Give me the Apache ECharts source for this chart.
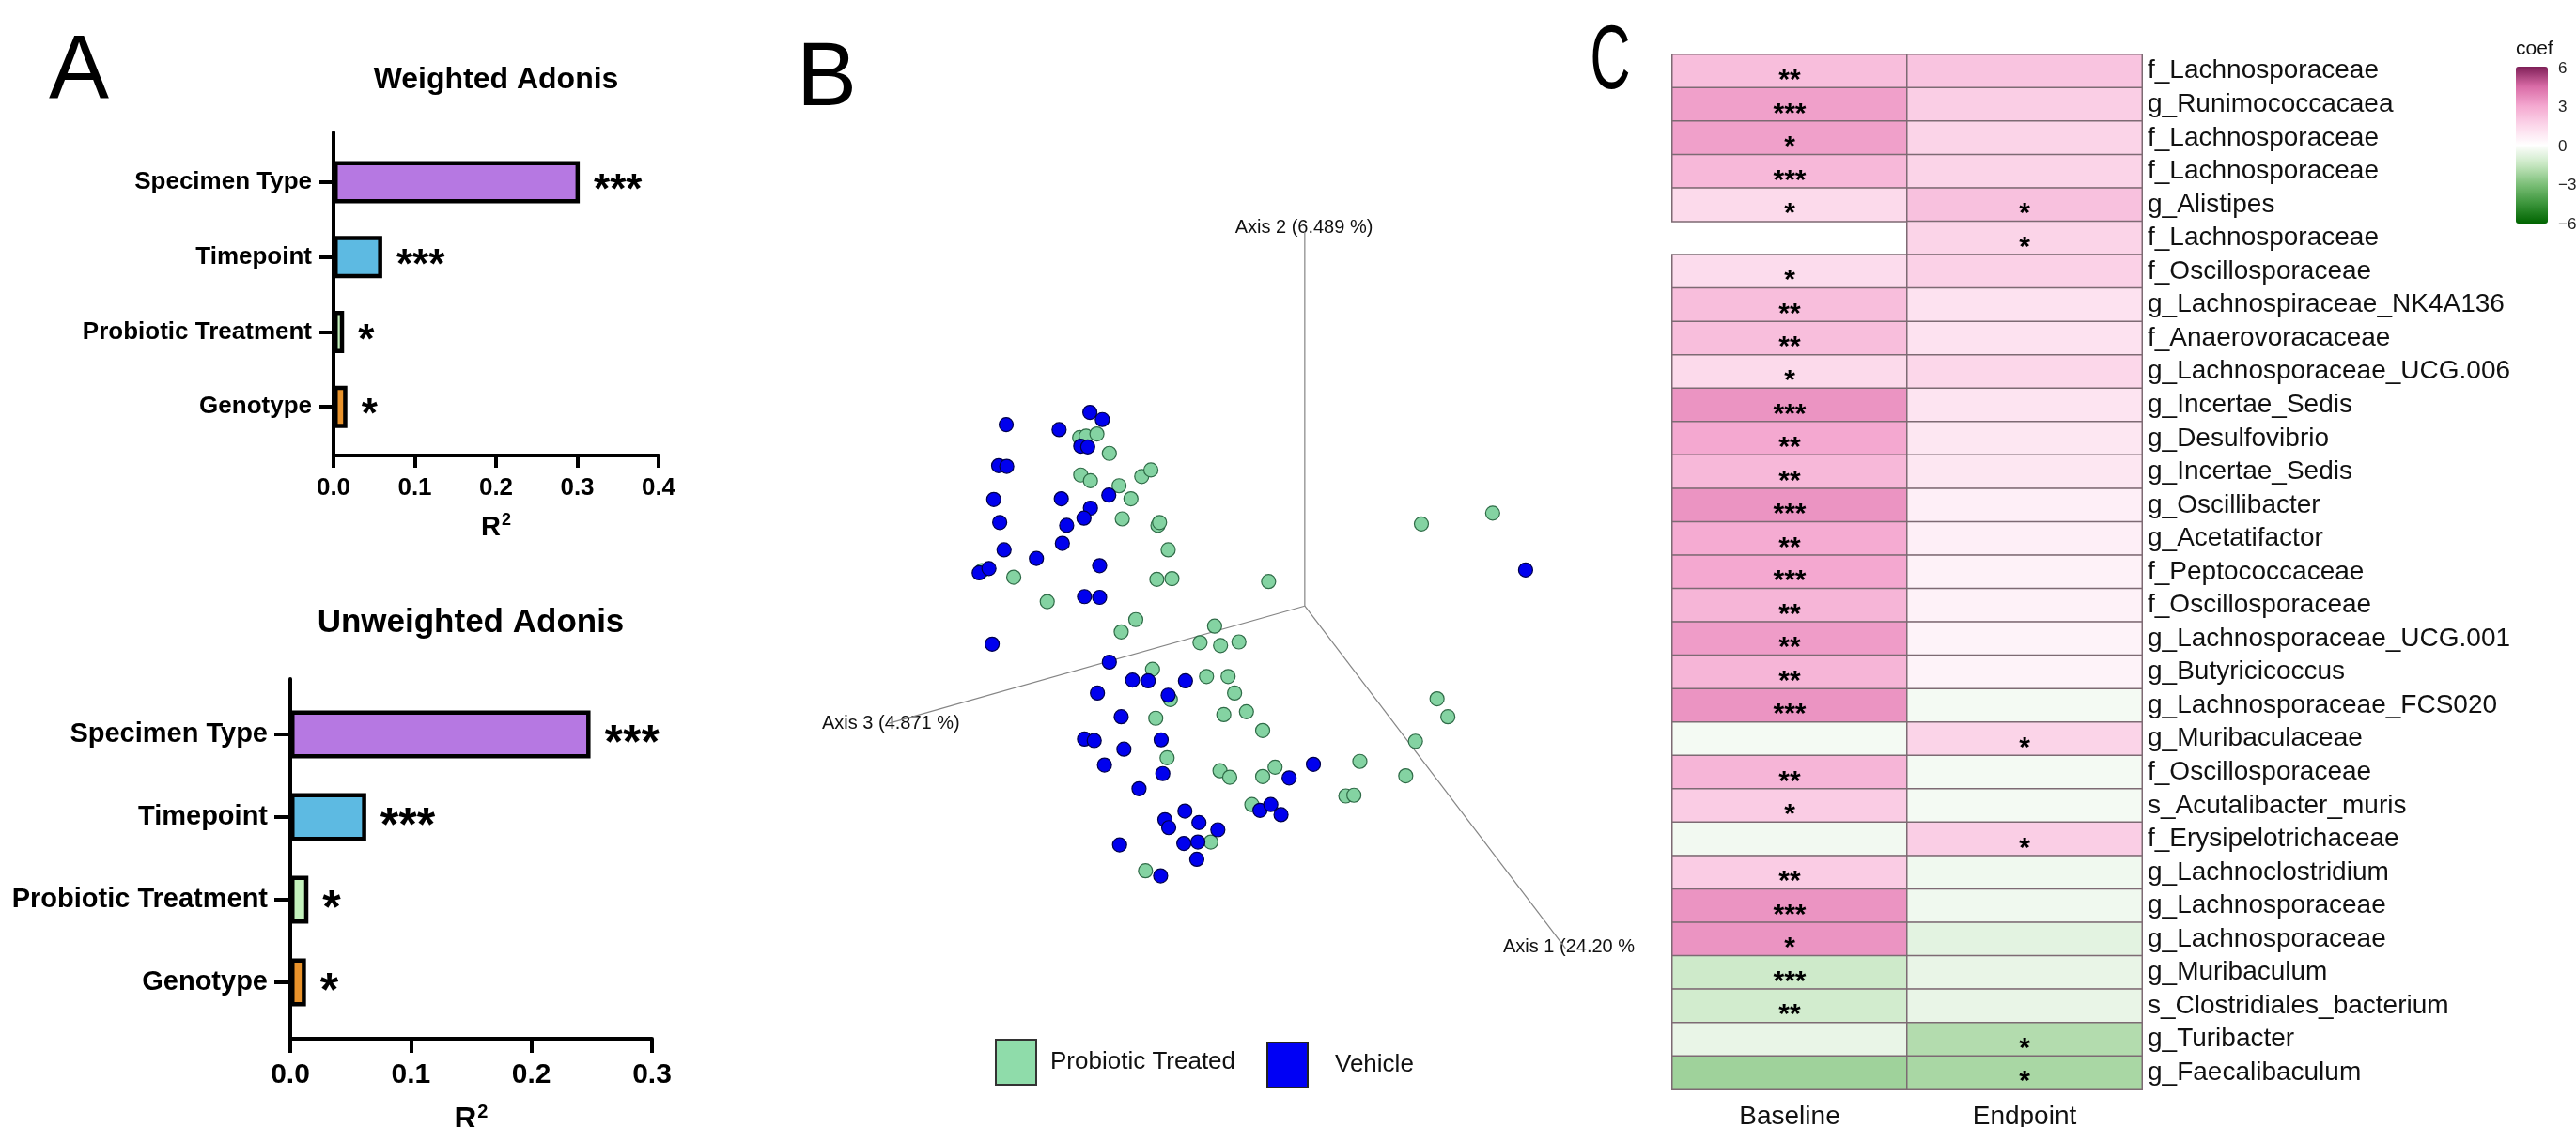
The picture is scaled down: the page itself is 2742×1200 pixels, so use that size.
<!DOCTYPE html>
<html><head><meta charset="utf-8">
<script src="https://cdn.jsdelivr.net/npm/echarts@6/dist/echarts.min.js"></script>
<style>html,body{margin:0;padding:0;background:#fff}#chart{width:2742px;height:1200px}</style>
</head><body><div id="chart"></div>
<script>
// ---------- DATA ----------
const adonisFactors = ['Specimen Type', 'Timepoint', 'Probiotic Treatment', 'Genotype'];
const weightedR2 = [0.303, 0.060, 0.013, 0.017];
const weightedSig = ['***', '***', '*', '*'];
const unweightedR2 = [0.249, 0.063, 0.015, 0.013];
const unweightedSig = ['***', '***', '*', '*'];
const weightedTickMax = 0.4;
const unweightedTickMax = 0.3;

// PCoA (emperor) projected screen coordinates
const probioticPoints = [[538,608],[550,606],[570,603],[593,630],[540,660],[558,668],[611,675],[653,662],[670,653],[633,693],[617,721],[683,730],[686,726],[702,764],[357,793],[416,802],[681,805],[709,804],[888,808],[478,836],[642,861],[615,878],[788,870],[761,893],[799,897],[833,892],[1171,728],[1303,713],[673,930],[773,940],[813,940],[706,972],[825,963],[679,998],[805,993],[847,989],[877,1015],[1200,971],[1220,996],[1160,1030],[700,1053],[798,1071],[816,1080],[877,1079],[900,1066],[1057,1058],[1142,1078],[1031,1106],[1046,1105],[857,1118],[781,1170],[660,1210]];
const vehiclePoints = [[402,590],[500,597],[557,573],[580,583],[540,620],[553,621],[388,647],[403,648],[379,694],[504,693],[592,688],[390,726],[514,730],[558,706],[546,720],[398,764],[458,776],[506,755],[352,796],[370,790],[575,786],[547,829],[575,830],[376,895],[1364,792],[593,920],[636,945],[665,946],[734,946],[571,963],[702,966],[615,996],[547,1027],[565,1029],[689,1028],[620,1041],[584,1063],[692,1075],[926,1081],[971,1062],[648,1096],[872,1126],[892,1118],[911,1132],[733,1127],[696,1139],[703,1150],[759,1143],[794,1153],[612,1174],[731,1172],[757,1170],[755,1194],[688,1217]];
const pcoaOrigin = [955, 842];
const pcoaAxisEnds = [[1438, 1318], [955, 322], [185, 1005]];
const pcoaAxisLabels = ['Axis 1 (24.20 %', 'Axis 2 (6.489 %)', 'Axis 3 (4.871 %)'];
const groupNames = ['Probiotic Treated', 'Vehicle'];

// Heatmap
const taxa = ['f_Lachnosporaceae','g_Runimococcacaea','f_Lachnosporaceae','f_Lachnosporaceae','g_Alistipes','f_Lachnosporaceae','f_Oscillosporaceae','g_Lachnospiraceae_NK4A136','f_Anaerovoracaceae','g_Lachnosporaceae_UCG.006','g_Incertae_Sedis','g_Desulfovibrio','g_Incertae_Sedis','g_Oscillibacter','g_Acetatifactor','f_Peptococcaceae','f_Oscillosporaceae','g_Lachnosporaceae_UCG.001','g_Butyricicoccus','g_Lachnosporaceae_FCS020','g_Muribaculaceae','f_Oscillosporaceae','s_Acutalibacter_muris','f_Erysipelotrichaceae','g_Lachnoclostridium','g_Lachnosporaceae','g_Lachnosporaceae','g_Muribaculum','s_Clostridiales_bacterium','g_Turibacter','g_Faecalibaculum'];
const timepoints = ['Baseline', 'Endpoint'];
const coefBaseline = [2.3,3.2,3.2,2.5,1.4,null,1.3,2.3,2.3,1.4,3.5,3.0,2.5,3.5,2.9,3.0,2.6,3.3,2.6,3.5,-0.3,2.6,1.85,-0.35,1.85,3.5,3.5,-1.3,-1.2,-0.6,-2.3];
const coefEndpoint = [2.1,1.8,1.6,1.6,2.2,1.6,1.7,1.1,1.1,1.5,1.0,0.9,0.9,0.6,0.6,0.5,0.5,0.45,0.45,-0.3,1.6,-0.3,-0.3,1.8,-0.4,-0.4,-0.75,-0.6,-0.6,-1.9,-2.1];
const sigBaseline = ['**','***','*','***','*','','*','**','**','*','***','**','**','***','**','***','**','**','**','***','','**','*','','**','***','*','***','**','',''];
const sigEndpoint = ['','','','','*','*','','','','','','','','','','','','','','','*','','','*','','','','','','*','*'];
const coefMin = -6, coefMax = 6, coefStep = 3;

// ---------- STYLE ----------
const FONT = '"Liberation Sans", Arial, Helvetica, sans-serif';
const barColors = ['#B678E2', '#5DBAE2', '#C4F2BC', '#E8922B'];
const coefColors = ['#006400', '#3A943A', '#7CBF78', '#C7E7C2', '#FFFFFF', '#FCD7EA', '#F4A8D0', '#D96BA6', '#7E1F57'];

const heatData = [];
[coefBaseline, coefEndpoint].forEach((col, ci) => {
  col.forEach((v, ri) => { if (v !== null) heatData.push([ci, ri, v]); });
});
const sigByCol = [sigBaseline, sigEndpoint];

function frameAxes(gi, max, tickLen, fs, margin, nameFs, nameGap) {
  return {
    x: { type: 'value', gridIndex: gi, min: 0, max: max, interval: 0.1,
      axisLine: { show: true, lineStyle: { color: '#000', width: 4 } },
      axisTick: { show: true, length: tickLen, lineStyle: { color: '#000', width: 4 } },
      axisLabel: { margin: margin, fontSize: fs, fontWeight: 'bold', color: '#000', fontFamily: FONT, formatter: v => v.toFixed(1) },
      splitLine: { show: false },
      name: '{r|R}{s|2}', nameLocation: 'middle', nameGap: nameGap,
      nameTextStyle: { fontFamily: FONT, color: '#000',
        rich: {
          r: { fontSize: nameFs, fontWeight: 'bold', color: '#000', fontFamily: FONT, lineHeight: nameFs + 2, verticalAlign: 'bottom' },
          s: { fontSize: Math.round(nameFs * 0.62), fontWeight: 'bold', color: '#000', fontFamily: FONT, verticalAlign: 'top', lineHeight: nameFs + 2, padding: [0, 0, 0, 1] }
        } } },
    y: { type: 'value', gridIndex: gi, min: 0, max: 1,
      axisLine: { show: true, lineStyle: { color: '#000', width: 4 } },
      axisTick: { show: false }, axisLabel: { show: false }, splitLine: { show: false } }
  };
}
const f0 = frameAxes(0, weightedTickMax, 13, 26, 22, 29, 60);
const f2 = frameAxes(2, unweightedTickMax, 15, 30, 24, 33, 68);

function catAxis(gi, tickLen, fs, margin) {
  return { type: 'category', gridIndex: gi, data: adonisFactors, inverse: true,
    axisLine: { show: false },
    axisTick: { show: true, length: tickLen, alignWithLabel: true, lineStyle: { color: '#000', width: 4 } },
    axisLabel: { interval: 0, margin: margin, fontSize: fs, fontWeight: 'bold', color: '#000', fontFamily: FONT } };
}

function barSeries(xi, yi, values, sig, bw, fs, off, dist) {
  return { type: 'bar', xAxisIndex: xi, yAxisIndex: yi, barWidth: bw,
    data: values.map((v, i) => ({ value: v, itemStyle: { color: barColors[i] } })),
    itemStyle: { borderColor: '#000', borderWidth: 4.5 },
    label: { show: true, position: 'right', distance: dist, offset: [0, off],
      formatter: p => sig[p.dataIndex], fontSize: fs, fontWeight: 'bold', color: '#000', fontFamily: FONT },
    emphasis: { disabled: true }, silent: true };
}

const axisLineSeries = pcoaAxisEnds.map((end, i) => ({
  type: 'line', xAxisIndex: 4, yAxisIndex: 4, data: [pcoaOrigin, end], symbol: 'none',
  lineStyle: { color: '#858585', width: 1.2 }, silent: true, z: 1, name: 'axis' + i
}));

function txt(x, y, text, opts) {
  return Object.assign({ type: 'text', x: x, y: y,
    style: Object.assign({ text: text, fontFamily: FONT, fill: '#000', verticalAlign: 'middle' }, opts.style) },
    opts.el || {});
}

const OB = 'none';
const option = {
  animation: false,
  backgroundColor: '#fff',
  grid: [
    { left: 355, top: 141, width: 346, height: 344, outerBoundsMode: OB, containLabel: false },
    { left: 355, top: 154, width: 346, height: 319, outerBoundsMode: OB, containLabel: false },
    { left: 309, top: 723, width: 385, height: 383, outerBoundsMode: OB, containLabel: false },
    { left: 309, top: 738, width: 385, height: 352, outerBoundsMode: OB, containLabel: false },
    { left: 840, top: 0, width: 900, height: 1200, outerBoundsMode: OB, containLabel: false },
    { left: 1780, top: 58, width: 500, height: 1102, outerBoundsMode: OB, containLabel: false },
    { left: 2678, top: 73, width: 34, height: 166, outerBoundsMode: OB, containLabel: false }
  ],
  xAxis: [
    f0.x,
    { type: 'value', gridIndex: 1, min: 0, max: weightedTickMax, show: false },
    f2.x,
    { type: 'value', gridIndex: 3, min: 0, max: unweightedTickMax, show: false },
    { type: 'value', gridIndex: 4, min: 0, max: 1566, show: false },
    { type: 'category', gridIndex: 5, data: timepoints, position: 'bottom',
      axisLine: { show: false }, axisTick: { show: false },
      axisLabel: { margin: 15, fontSize: 28, color: '#111', fontFamily: FONT } },
    { type: 'value', gridIndex: 6, min: 0, max: 1, show: false }
  ],
  yAxis: [
    f0.y,
    catAxis(1, 15, 26, 23),
    f2.y,
    catAxis(3, 17, 29, 24),
    { type: 'value', gridIndex: 4, min: 0, max: 1566, inverse: true, show: false },
    { type: 'category', gridIndex: 5, data: taxa, inverse: true, position: 'right',
      axisLine: { show: false }, axisTick: { show: false },
      axisLabel: { interval: 0, margin: 6, fontSize: 28, color: '#111', fontFamily: FONT } },
    { type: 'value', gridIndex: 6, min: coefMin, max: coefMax, interval: coefStep, position: 'right',
      axisLine: { show: false }, splitLine: { show: false },
      axisTick: { show: true, inside: true, length: 7, lineStyle: { color: '#fff', width: 2 } },
      axisLabel: { margin: 11, fontSize: 17, color: '#222', fontFamily: FONT,
        formatter: v => (v < 0 ? '\u2212' + Math.abs(v) : String(v)) } },
    { type: 'value', gridIndex: 6, min: coefMin, max: coefMax, interval: coefStep, position: 'left',
      axisLine: { show: false }, splitLine: { show: false }, axisLabel: { show: false },
      axisTick: { show: true, inside: true, length: 7, lineStyle: { color: '#fff', width: 2 } } }
  ],
  visualMap: {
    type: 'continuous', seriesIndex: 7, dimension: 2, min: coefMin, max: coefMax,
    left: 2678, top: 71, itemWidth: 34, itemHeight: 167, padding: 0,
    calculable: false, text: null, orient: 'vertical',
    inRange: { color: coefColors }, hoverLink: false
  },
  legend: [
    { data: [groupNames[0]], left: 1059, top: 1106, padding: 0, icon: 'rect', itemWidth: 43, itemHeight: 48,
      itemStyle: { borderColor: '#333', borderWidth: 2, color: '#8FDCAA' },
      textStyle: { fontSize: 26, color: '#111', fontFamily: FONT, padding: [0, 0, 0, 10] }, selectedMode: false },
    { data: [groupNames[1]], left: 1348, top: 1109, padding: 0, icon: 'rect', itemWidth: 43, itemHeight: 48,
      itemStyle: { borderColor: '#222', borderWidth: 2, color: '#0000F5' },
      textStyle: { fontSize: 26, color: '#111', fontFamily: FONT, padding: [0, 0, 0, 24] }, selectedMode: false }
  ],
  series: [
    barSeries(1, 1, weightedR2, weightedSig, 45, 44, 10, 15),
    barSeries(3, 3, unweightedR2, unweightedSig, 51, 50, 11, 15),
    { type: 'scatter', name: groupNames[0], xAxisIndex: 4, yAxisIndex: 4, data: probioticPoints, symbolSize: 15,
      itemStyle: { color: '#84D3A2', borderColor: '#2F6B47', borderWidth: 1.2, opacity: 1 }, z: 3, emphasis: { disabled: true } },
    { type: 'scatter', name: groupNames[1], xAxisIndex: 4, yAxisIndex: 4, data: vehiclePoints, symbolSize: 15,
      itemStyle: { color: '#0000EE', borderColor: '#00004A', borderWidth: 1.2, opacity: 1 }, z: 3, emphasis: { disabled: true } },
    axisLineSeries[0], axisLineSeries[1], axisLineSeries[2],
    { type: 'heatmap', xAxisIndex: 5, yAxisIndex: 5, data: heatData,
      itemStyle: { borderColor: '#7d6a73', borderWidth: 1.5 },
      label: { show: true, formatter: p => sigByCol[p.value[0]][p.value[1]], fontSize: 30, fontWeight: 'bold',
        color: '#000', fontFamily: FONT, offset: [0, 10] },
      emphasis: { disabled: true }, silent: true }
  ],
  graphic: [
    txt(52, 78, 'A', { style: { fontSize: 96 } }),
    txt(848, 86, 'B', { style: { fontSize: 96 } }),
    txt(1714, 68, 'C', { style: { fontSize: 96, align: 'center' }, el: { scaleX: 0.62 } }),
    txt(528, 85, 'Weighted Adonis', { style: { fontSize: 32, fontWeight: 'bold', align: 'center' } }),
    txt(501, 663, 'Unweighted Adonis', { style: { fontSize: 35, fontWeight: 'bold', align: 'center' } }),
    txt(1388, 242, pcoaAxisLabels[1], { style: { fontSize: 20, align: 'center', fill: '#111' } }),
    txt(875, 770, pcoaAxisLabels[2], { style: { fontSize: 20, align: 'left', fill: '#111' } }),
    txt(1600, 1008, pcoaAxisLabels[0], { style: { fontSize: 20, align: 'left', fill: '#111' } }),
    txt(2678, 52, 'coef', { style: { fontSize: 21, align: 'left', fill: '#111' } })
  ]
};
echarts.init(document.getElementById('chart')).setOption(option);
</script></body></html>
